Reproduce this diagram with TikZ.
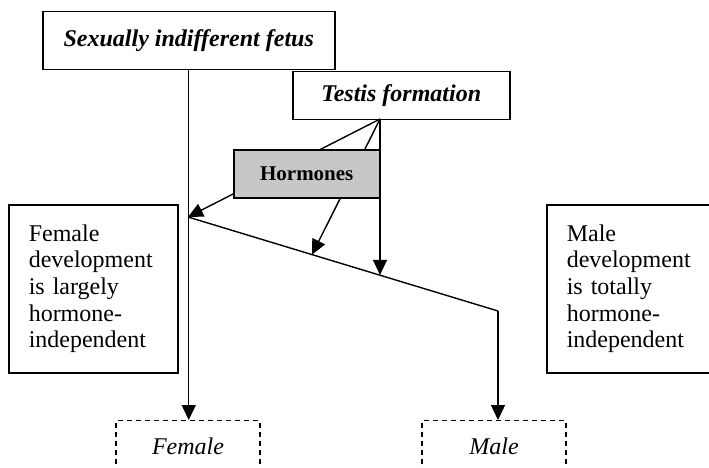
\documentclass[tikz,border=0pt]{standalone}
\usepackage{fontspec}
\setmainfont{Liberation Serif}
\usetikzlibrary{arrows.meta,positioning,calc}
\tikzset{
  titlebox/.style={rectangle, draw=black, line width=1.5pt, fill=white, font=\fontsize{24}{27}\selectfont\bfseries\itshape, inner sep=0pt},
  hormbox/.style={rectangle, draw=black, line width=1.5pt, fill=black!22, font=\fontsize{21}{24}\selectfont\bfseries, inner sep=0pt, minimum width=146pt, minimum height=48pt},
  notebox/.style={rectangle, draw=black, line width=1.5pt, align=left, text width=129pt, inner xsep=20pt, inner ysep=0pt, minimum height=168pt, font=\fontsize{24}{26.7}\selectfont},
  sexbox/.style={rectangle, draw=black, line width=1.4pt, dash pattern=on 5pt off 4pt, font=\fontsize{24}{27}\selectfont\itshape, minimum width=144pt, minimum height=52pt},
  flowarrow/.style={-{Triangle[length=15pt,width=14pt]}, line width=1.4pt},
  flowline/.style={line width=1.4pt}
}
\begin{document}
\begin{tikzpicture}[x=1pt, y=-1pt]
\useasboundingbox (0,0) rectangle (709,468);
\node[titlebox, minimum width=292pt, minimum height=58pt, anchor=north west] (fetus) at (42,11) {Sexually indifferent fetus};
\node[titlebox, minimum width=217pt, minimum height=48pt, anchor=north west] (testis) at (292,71) {Testis formation};
\node[notebox, anchor=north west] (femdev) at (8,204) {Female\\development\\is largely\\hormone-\\independent\\[6pt]};
\node[notebox, anchor=north west] (maledev) at (546,204) {Male\\development\\is totally\\hormone-\\independent\\[6pt]};
\node[sexbox, anchor=north] (female) at (188,420) {Female};
\node[sexbox, anchor=north] (male) at (494,420) {Male};
\coordinate (apex) at (380,119);
\coordinate (branch) at (188,217);
\coordinate (kink) at (498,311);
\coordinate (hit1) at ($(branch)!0.4!(kink)$);
\coordinate (hit2) at ($(branch)!0.616!(kink)$);
\draw[flowarrow] (fetus) -- (fetus |- female.north);
\draw[flowline] (branch) -- (kink);
\draw[flowarrow] (kink) -- (kink |- male.north);
\draw[flowarrow] (apex) -- (branch);
\draw[flowarrow] (apex) -- (hit1);
\node[hormbox, anchor=north west] (horm) at (233,149) {Hormones};
\draw[flowarrow] (apex) -- (apex |- hit2);
\end{tikzpicture}
\end{document}
